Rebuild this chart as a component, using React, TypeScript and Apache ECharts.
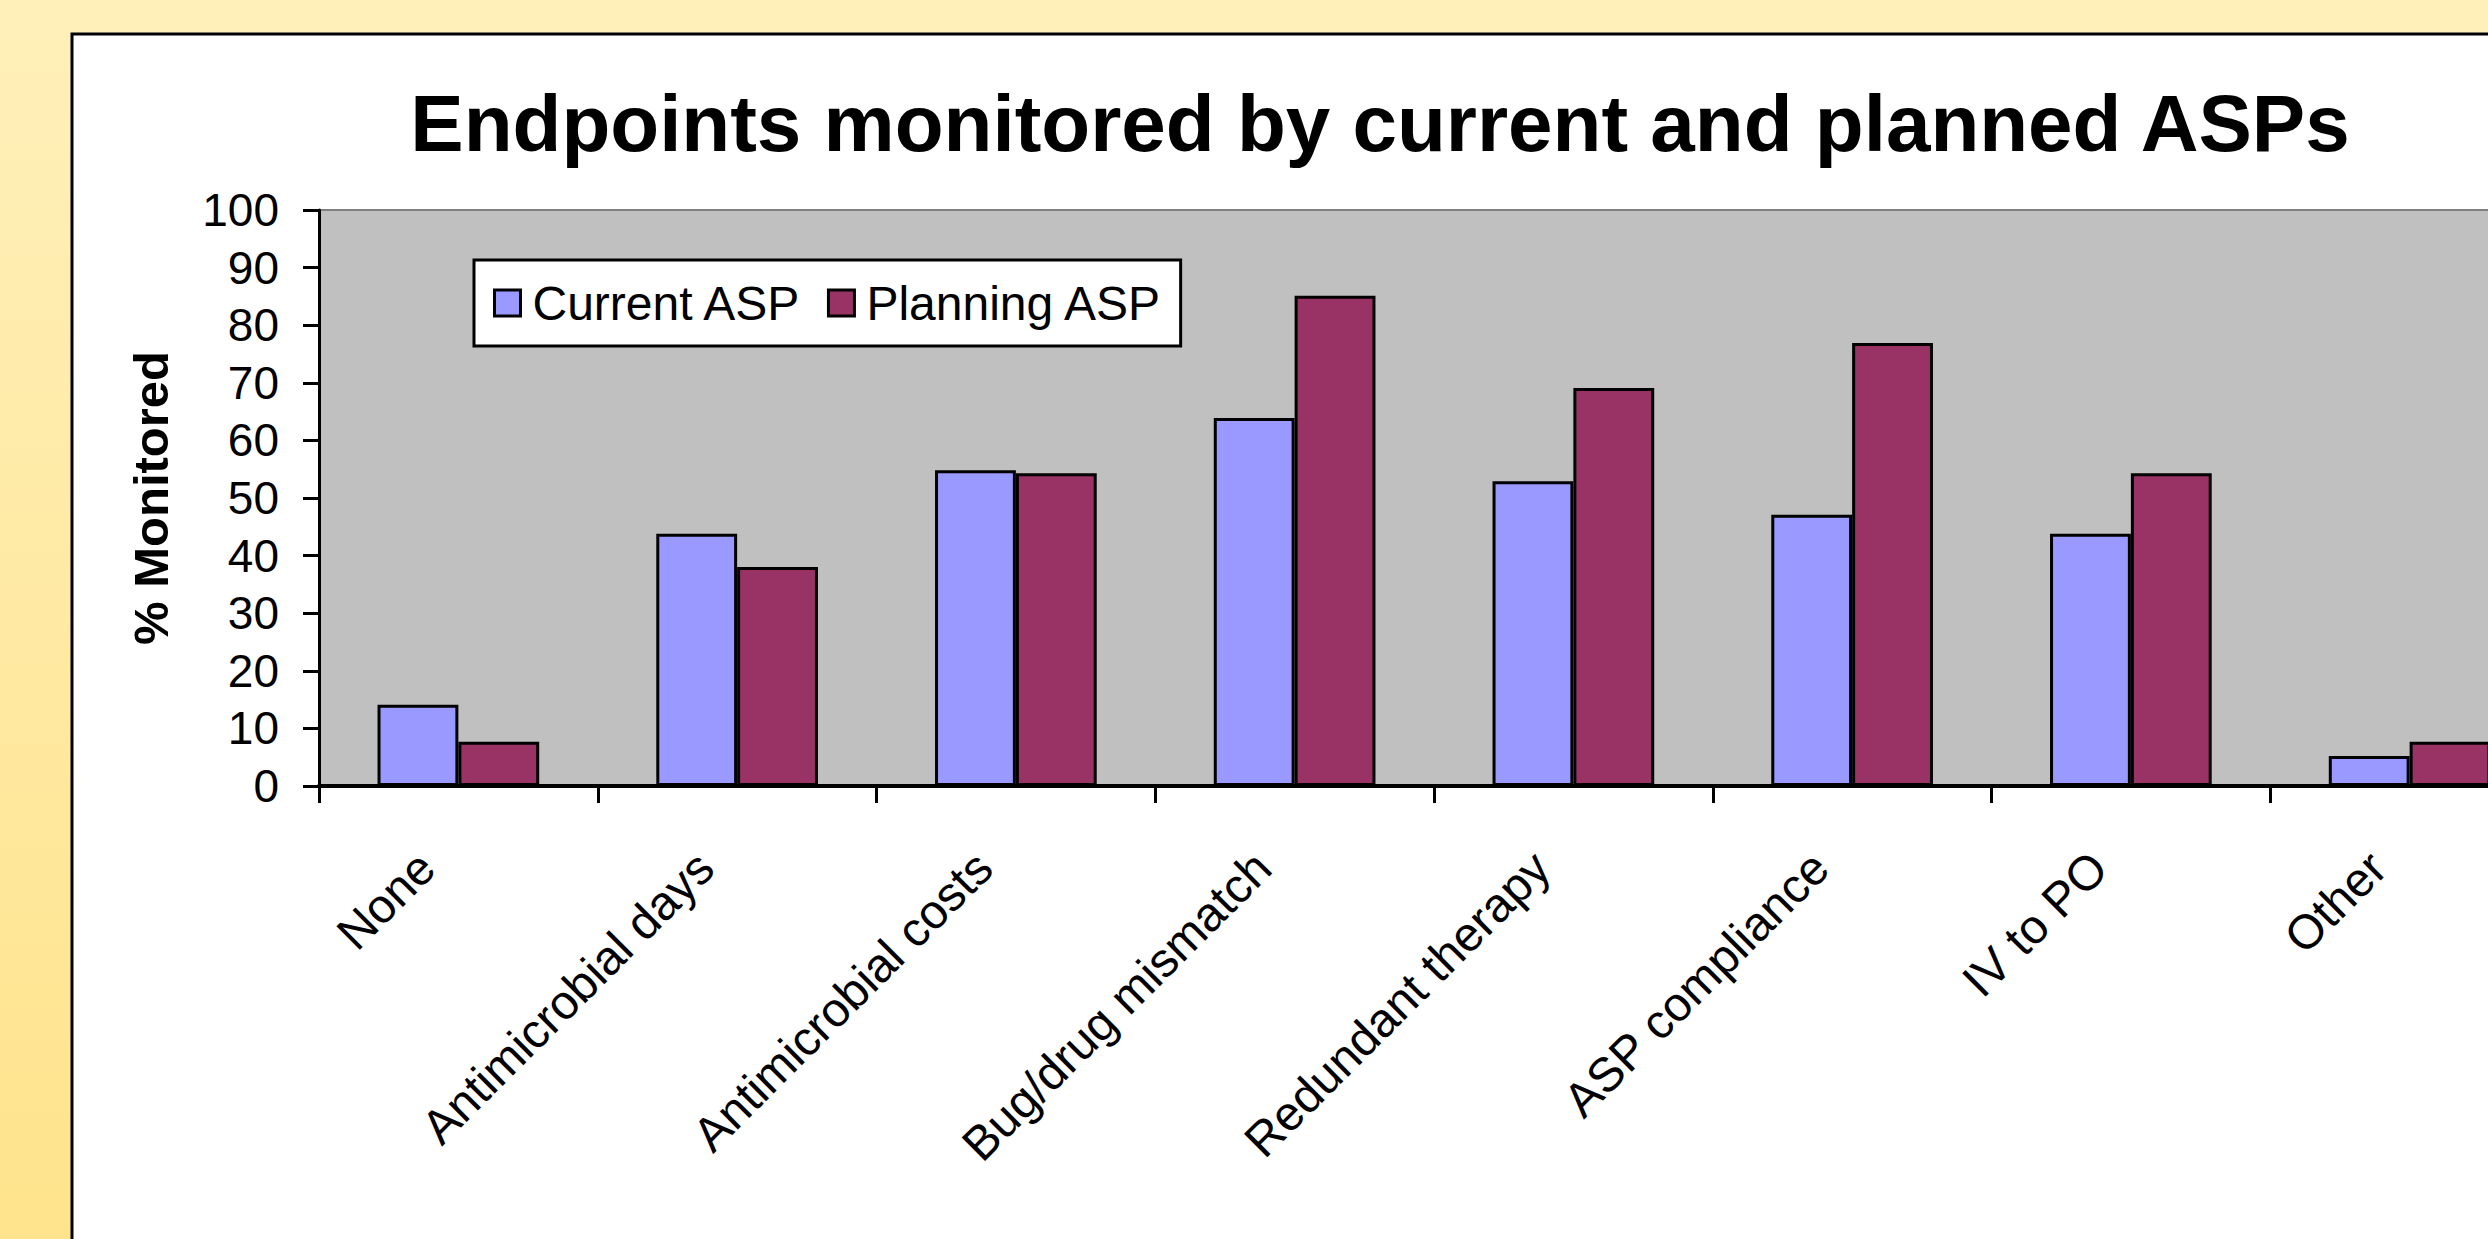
import React, { useEffect, useRef } from "react";
import * as echarts from "echarts";

const categories = [
  "None",
  "Antimicrobial days",
  "Antimicrobial costs",
  "Bug/drug mismatch",
  "Redundant therapy",
  "ASP compliance",
  "IV to PO",
  "Other",
];
const currentASP = [14.1, 43.8, 54.8, 63.9, 52.9, 47.1, 43.8, 5.2];
const planningASP = [7.7, 38.0, 54.3, 85.1, 69.1, 76.9, 54.3, 7.7];
const yTicks = [0, 10, 20, 30, 40, 50, 60, 70, 80, 90, 100];

const FONT = "'Liberation Sans', Arial, Helvetica, sans-serif";
const CHART_W = 2580;

export default function App() {
  const ref = useRef<HTMLDivElement>(null);
  useEffect(() => {
    if (!ref.current) return;
    const chart = echarts.init(ref.current, null, { renderer: "svg" });
    chart.setOption({
      animation: false,
      backgroundColor: "transparent",
      textStyle: { fontFamily: FONT },
      title: {
        text: "Endpoints monitored by current and planned ASPs",
        left: 1380,
        textAlign: "center",
        top: 83,
        padding: 0,
        textStyle: {
          fontFamily: FONT,
          fontSize: 80,
          fontWeight: "bold",
          color: "#000",
          lineHeight: 80,
        },
      },
      graphic: [
        {
          type: "rect",
          z: -10,
          shape: { x: 72, y: 34, width: 2700, height: 1400 },
          style: { fill: "#ffffff", stroke: "#000000", lineWidth: 3 },
        },
      ],
      legend: {
        left: 474,
        top: 260,
        orient: "horizontal",
        backgroundColor: "#ffffff",
        borderColor: "#000000",
        borderWidth: 3,
        borderRadius: 0,
        padding: [18, 18, 18, 19],
        itemWidth: 26,
        itemHeight: 26,
        itemGap: 25,
        icon: "rect",
        itemStyle: { borderColor: "#000000", borderWidth: 3 },
        textStyle: {
          fontFamily: FONT,
          fontSize: 48,
          color: "#000",
          lineHeight: 50,
          padding: [0, 0, 0, 7],
        },
        data: ["Current ASP", "Planning ASP"],
      },
      grid: {
        left: 319,
        top: 210,
        bottom: 453,
        right: CHART_W - 2549,
        show: true,
        backgroundColor: "#C0C0C0",
        borderColor: "#808080",
        borderWidth: 2,
        containLabel: false,
      },
      xAxis: {
        type: "category",
        data: categories,
        boundaryGap: true,
        axisLine: { show: true, lineStyle: { color: "#000", width: 4 } },
        axisTick: {
          show: true,
          alignWithLabel: false,
          interval: 0,
          length: 17,
          lineStyle: { color: "#000", width: 3 },
        },
        axisLabel: {
          interval: 0,
          rotate: 45,
          margin: 42,
          padding: [0, 45, 0, 0],
          fontFamily: FONT,
          fontSize: 48,
          color: "#000",
        },
        splitLine: { show: false },
      },
      yAxis: {
        type: "value",
        min: 0,
        max: 100,
        interval: 10,
        name: "% Monitored",
        nameLocation: "middle",
        nameRotate: 90,
        nameGap: 144,
        nameTextStyle: {
          fontFamily: FONT,
          fontSize: 49,
          fontWeight: "bold",
          color: "#000",
        },
        axisLine: { show: true, lineStyle: { color: "#000", width: 3 } },
        axisTick: {
          show: true,
          length: 16,
          lineStyle: { color: "#000", width: 3 },
        },
        axisLabel: {
          margin: 40,
          fontFamily: FONT,
          fontSize: 46,
          color: "#000",
          formatter: (v: number) => (yTicks.includes(v) ? String(v) : ""),
        },
        splitLine: { show: false },
      },
      series: [
        {
          name: "Current ASP",
          type: "bar",
          data: currentASP,
          barGap: "0%",
          barCategoryGap: "42%",
          itemStyle: { color: "#9999FF", borderColor: "#000", borderWidth: 3 },
        },
        {
          name: "Planning ASP",
          type: "bar",
          data: planningASP,
          barGap: "0%",
          barCategoryGap: "42%",
          itemStyle: { color: "#993366", borderColor: "#000", borderWidth: 3 },
        },
      ],
    });
    return () => chart.dispose();
  }, []);
  return (
    <div
      style={{
        position: "fixed",
        left: 0,
        top: 0,
        width: 2488,
        height: 1239,
        overflow: "hidden",
        background: "linear-gradient(to bottom, #FFF0BA 0%, #FFE38C 100%)",
      }}
    >
      <div ref={ref} style={{ width: CHART_W, height: 1239 }} />
    </div>
  );
}
